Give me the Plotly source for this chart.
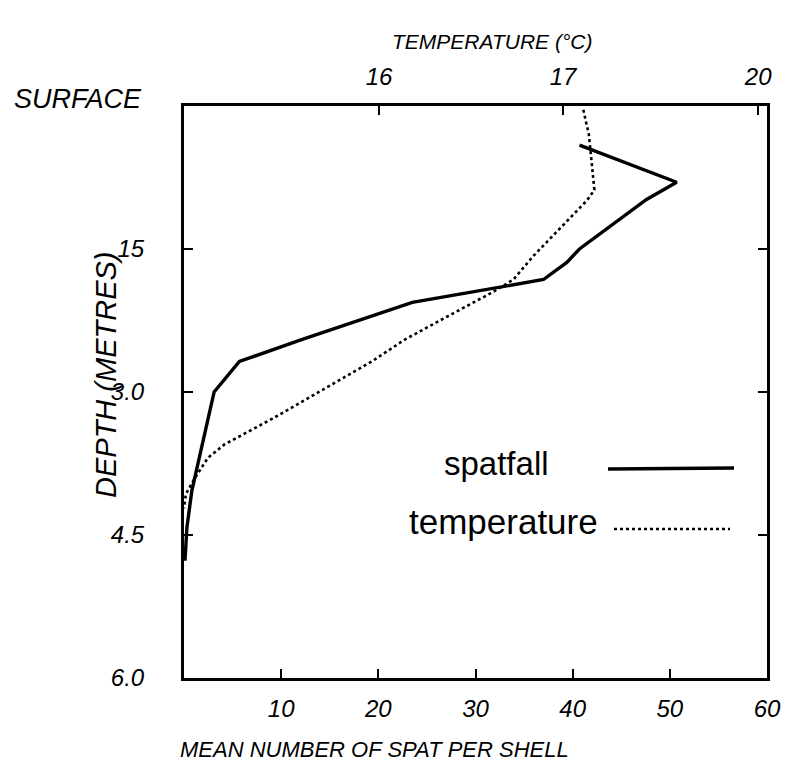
import plotly.graph_objects as go

# ---- data ----
spat_depth = [0.41, 0.80, 0.98, 1.50, 1.64, 1.82, 2.06, 2.45, 2.68, 3.00, 4.04, 4.42, 4.77]
spat_mean = [40.7, 50.7, 47.6, 40.7, 39.4, 37.0, 23.5, 12.1, 5.7, 3.1, 0.8, 0.3, 0.1]

temp_depth = [0.04, 0.30, 0.49, 0.88, 0.99, 1.29, 1.57, 1.82, 1.95, 2.23, 2.45, 2.68,
              3.00, 3.28, 3.55, 3.69, 3.90, 4.07, 4.22]
temp_c = [17.11, 17.14, 17.15, 17.17, 17.13, 16.98, 16.84, 16.73, 16.62, 16.35, 16.14,
          15.96, 15.67, 15.42, 15.16, 15.07, 15.00, 14.95, 14.94]

spat_ticks = [10, 20, 30, 40, 50, 60]
spat_ticktext = ["10", "20", "30", "40", "50", "60"]
temp_tickvals = [16, 17, 18.06]
temp_ticktext = ["16", "17", "20"]
depth_tickvals = [0, 1.5, 3.0, 4.5, 6.0]
depth_ticktext = ["", "15", "3.0", "4.5", "6.0"]

FONT = "Liberation Sans, Arial, sans-serif"

fig = go.Figure()
fig.add_trace(go.Scatter(x=spat_mean, y=spat_depth, mode="lines", name="spatfall",
                         line=dict(color="black", width=3.4), xaxis="x", yaxis="y"))
fig.add_trace(go.Scatter(x=temp_c, y=temp_depth, mode="lines", name="temperature",
                         line=dict(color="black", width=2.6, dash="dot"), xaxis="x2", yaxis="y"))

W, H = 789, 767
L, R, T, B = 176, 30, 98, 97
pw, ph = W - L - R, H - T - B
OX, OY = 6, 5  # page offset seen in render

def px(x):
    return (x - OX - L) / pw

def py(y):
    return (H - B - (y - OY)) / ph

tickfont = dict(family=FONT, size=24, color="black", style="italic")

fig.update_layout(
    width=W, height=H,
    margin=dict(l=L, r=R, t=T, b=B),
    paper_bgcolor="white", plot_bgcolor="white",
    showlegend=False,
    xaxis=dict(range=[0, 60], tickvals=spat_ticks, ticktext=spat_ticktext,
               ticks="inside", ticklen=9, tickwidth=2, tickcolor="black",
               showline=True, linewidth=3, linecolor="black",
               showgrid=False, zeroline=False, tickfont=tickfont,
               ticklabelstandoff=7),
    xaxis2=dict(range=[14.94, 18.108], overlaying="x", side="top",
                tickvals=temp_tickvals, ticktext=temp_ticktext,
                ticks="inside", ticklen=9, tickwidth=2, tickcolor="black",
                showline=True, linewidth=3, linecolor="black",
                showgrid=False, zeroline=False, tickfont=tickfont,
                ticklabelstandoff=8),
    yaxis=dict(range=[6, 0], tickvals=depth_tickvals, ticktext=depth_ticktext,
               ticks="inside", ticklen=9, tickwidth=2, tickcolor="black",
               showline=True, linewidth=3, linecolor="black", mirror="ticks",
               showgrid=False, zeroline=False, tickfont=tickfont,
               ticklabelstandoff=32),
)

def note(text, x, y, size, italic=True, angle=0):
    fig.add_annotation(text=text, x=px(x), y=py(y), xref="paper", yref="paper",
                       showarrow=False, xanchor="center", yanchor="middle", textangle=angle,
                       font=dict(family=FONT, size=size, color="black",
                                 style="italic" if italic else "normal"))

note("TEMPERATURE (°C)", 490, 38, 21)
note("MEAN NUMBER OF SPAT PER SHELL", 372, 746, 22)
note("SURFACE", 76, 96, 27)
note("DEPTH (METRES)", 104, 372, 29, angle=-90)

# legend
note("spatfall", 494, 460, 33, italic=False)
note("temperature", 501, 518, 35, italic=False)
fig.add_shape(type="line", xref="paper", yref="paper", x0=px(606), x1=px(732),
              y0=py(466), y1=py(465), line=dict(color="black", width=3.4))
fig.add_shape(type="line", xref="paper", yref="paper", x0=px(612), x1=px(728),
              y0=py(526), y1=py(526), line=dict(color="black", width=2.6, dash="dot"))

fig.write_html("out.html")
